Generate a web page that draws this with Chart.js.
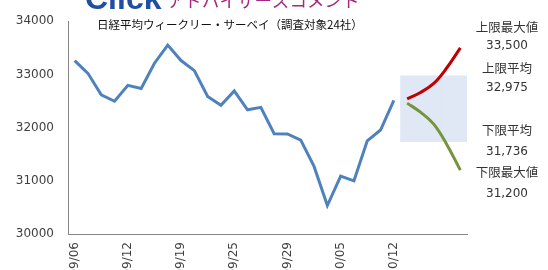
<!DOCTYPE html>
<html>
<head>
<meta charset="utf-8">
<script src="https://cdn.jsdelivr.net/npm/chart.js@4"></script>
<style>
  html, body { margin: 0; padding: 0; background: #fff; overflow: hidden; }
  #wrap { position: relative; width: 548px; height: 270px; }
</style>
</head>
<body>
<div id="wrap"><canvas id="chart"></canvas></div>
<script>
// Data
const dates = ["09/06", "09/07", "09/08", "09/11", "09/12", "09/13", "09/14", "09/15", "09/19",
  "09/20", "09/21", "09/22", "09/25", "09/26", "09/27", "09/28", "09/29", "10/02", "10/03",
  "10/04", "10/05", "10/06", "10/10", "10/11", "10/12"];
const forecastSlots = ["", "", "", "", ""];
const nikkei = [33260, 33020, 32615, 32495, 32795, 32735, 33210, 33550, 33260, 33070, 32585,
  32420, 32690, 32335, 32380, 31885, 31880, 31765, 31270, 30535, 31090, 31000, 31750, 31955, 32510];
const upperPath = [32540, 32660, 32830, 33130, 33500];
const lowerPath = [32460, 32290, 32065, 31675, 31200];
const upperAvg = 32975;
const lowerAvg = 31736;
const yTicks = [30000, 31000, 32000, 33000, 34000];
const notes = ["上限最大値", "33,500", "上限平均", "32,975", "下限平均", "31,736", "下限最大値", "31,200"];
const title = "日経平均ウィークリー・サーベイ（調査対象24社）";

const labels = dates.concat(forecastSlots);
const pad = (arr, before, after) =>
  Array(before).fill(null).concat(arr, Array(after).fill(null));

const JP = "'Noto Sans CJK JP', 'Noto Sans', sans-serif";
const NUM = "'DejaVu Sans', Verdana, sans-serif";

// Text around the chart: logo, title, right-hand notes
const textPlugin = {
  id: "texts",
  afterDraw(chart) {
    const ctx = chart.ctx;
    ctx.save();
    ctx.textBaseline = "alphabetic";
    ctx.textAlign = "left";
    ctx.fillStyle = "#1f4f9f";
    ctx.font = "bold 32px 'Liberation Sans', Arial, sans-serif";
    ctx.fillText("Click", 85, 9);
    ctx.fillStyle = "#a3287f";
    ctx.font = "17.5px " + JP;
    ctx.fillText("アドバイザーズコメント", 167, 7);

    ctx.fillStyle = "#111";
    ctx.font = "11.5px " + JP;
    ctx.textBaseline = "middle";
    ctx.fillText(title, 97, 25);

    ctx.textAlign = "center";
    ctx.fillStyle = "#333";
    const ys = [27, 46, 68, 88, 130, 152, 172, 194];
    notes.forEach((t, i) => {
      ctx.font = (i % 2 === 0 ? "12.5px " + JP : "12px " + NUM);
      ctx.fillText(t, 507, ys[i]);
    });
    ctx.restore();
  }
};

new Chart(document.getElementById("chart"), {
  data: {
    labels: labels,
    datasets: [
      {
        type: "line",
        data: pad(nikkei, 0, 5),
        borderColor: "#4f81bd",
        borderWidth: 3,
        pointRadius: 0,
        tension: 0,
        order: 1,
      },
      {
        type: "line",
        data: pad(upperPath, 25, 0),
        borderColor: "#c00000",
        borderWidth: 3,
        pointRadius: 0,
        tension: 0.4,
        order: 1,
      },
      {
        type: "line",
        data: pad(lowerPath, 25, 0),
        borderColor: "#77933c",
        borderWidth: 3,
        pointRadius: 0,
        tension: 0.4,
        order: 1,
      },
      {
        type: "bar",
        data: pad(Array(5).fill([lowerAvg, upperAvg]), 25, 0),
        backgroundColor: "#dfe8f4",
        borderWidth: 0,
        barPercentage: 1,
        categoryPercentage: 1,
        order: 5,
      },
    ],
  },
  options: {
    responsive: true,
    maintainAspectRatio: false,
    animation: false,
    layout: { padding: { top: 12, right: 81, bottom: 0, left: 0 } },
    plugins: { legend: { display: false }, tooltip: { enabled: false } },
    scales: {
      x: {
        offset: true,
        grid: { display: false, drawTicks: false },
        border: { color: "#868686", width: 1 },
        ticks: {
          autoSkip: false,
          minRotation: 90,
          maxRotation: 90,
          padding: 8,
          color: "#404040",
          font: { family: NUM, size: 12 },
          callback: (v, i) => (i % 4 === 0 && i < dates.length ? labels[i] : ""),
        },
        afterFit: (scale) => { scale.height = 36; },
      },
      y: {
        min: yTicks[0],
        max: yTicks[yTicks.length - 1],
        grid: { display: false, drawTicks: false },
        border: { color: "#868686", width: 1 },
        afterBuildTicks: (scale) => { scale.ticks = yTicks.map((v) => ({ value: v })); },
        ticks: {
          padding: 14,
          color: "#404040",
          font: { family: NUM, size: 12 },
          callback: (v) => String(v),
        },
        afterFit: (scale) => { scale.width = 68; },
      },
    },
  },
  plugins: [textPlugin],
});
</script>
</body>
</html>
